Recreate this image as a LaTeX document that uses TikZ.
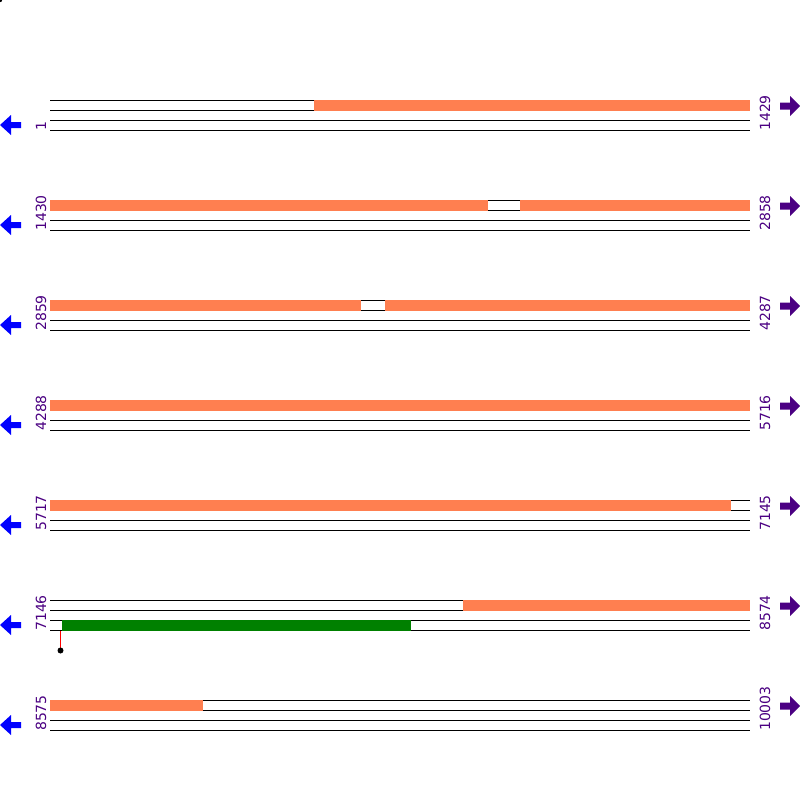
\documentclass[tikz,border=0pt]{standalone}
\usepackage{fontspec}
\setmainfont{DejaVu Sans}
\usetikzlibrary{positioning}
\definecolor{coralhit}{RGB}{255, 127, 80}
\definecolor{indigopos}{RGB}{75, 0, 130}
\definecolor{orfgreen}{RGB}{0, 128, 0}

\begin{document}
\begin{tikzpicture}[
    x=1pt, y=-1pt,
    track/.style={line width=1pt, black},
    hitbar/.style={fill=coralhit},
    orfbar/.style={fill=orfgreen},
    poslabel/.style={rotate=90, anchor=base west, inner sep=0pt, text=indigopos, font=\fontsize{14}{15}\selectfont},
    revarrow/.style={fill=blue},
    fwdarrow/.style={fill=indigopos}
]
    \useasboundingbox[fill=white] (0,0) rectangle (800,800);
    \fill (0,0) circle (2.2);

    % one block of four tracks per row
    \foreach \r/\lo/\hi in {0/1/1429, 1/1430/2858, 2/2859/4287, 3/4288/5716, 4/5717/7145, 5/7146/8574, 6/8575/10003} {
        \pgfmathsetmacro{\yb}{100+100*\r}
        \foreach \k in {0,...,3}
            \draw[track] (50,\yb+10*\k) -- (750,\yb+10*\k);
        \node[poslabel] (start\r) at (46,\yb+31) {\lo};
        \node[poslabel] (end\r) at (770,\yb+31) {\hi};
        \fill[revarrow] (0,\yb+25) -- (11,\yb+15) -- (11,\yb+22) -- (21,\yb+22) -- (21,\yb+28) -- (11,\yb+28) -- (11,\yb+35) -- cycle;
        \fill[fwdarrow] (800,\yb+6) -- (790,\yb-4) -- (790,\yb+2.5) -- (780,\yb+2.5) -- (780,\yb+9.5) -- (790,\yb+9.5) -- (790,\yb+16) -- cycle;
    }

    % hits
    \fill[hitbar] (314,99.5) rectangle (750,110.5);
    \fill[hitbar] (50,199.5) rectangle (488,210.5);
    \fill[hitbar] (520,199.5) rectangle (750,210.5);
    \fill[hitbar] (50,299.5) rectangle (361,310.5);
    \fill[hitbar] (385,299.5) rectangle (750,310.5);
    \fill[hitbar] (50,399.5) rectangle (750,410.5);
    \fill[hitbar] (50,499.5) rectangle (731,510.5);
    \fill[hitbar] (463,599.5) rectangle (750,610.5);
    \fill[hitbar] (50,699.5) rectangle (203,710.5);

    % orf and marker
    \fill[orfbar] (62,619.5) rectangle (411,630.5);
    \coordinate (tick) at (60.5,630.5);
    \draw[red, line width=1.2pt] (tick) -- (60.5,650);
    \node[circle, fill=black, inner sep=0pt, minimum size=6pt] (pin) at (60.5,650.5) {};
\end{tikzpicture}
\end{document}
